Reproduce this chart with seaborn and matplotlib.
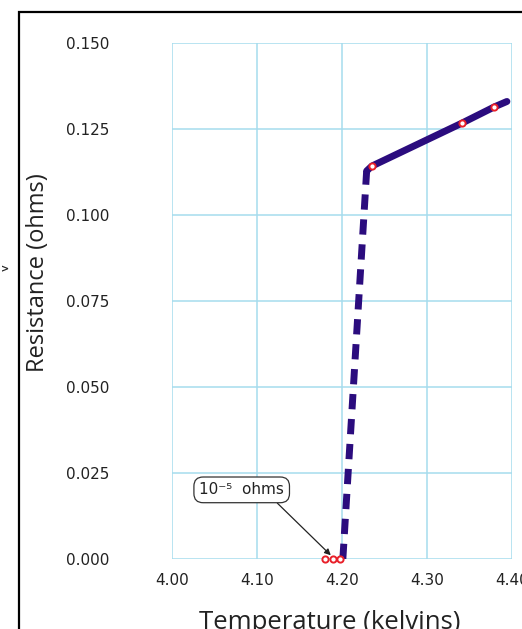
import seaborn as sns
import matplotlib.pyplot as plt
from matplotlib.patches import Rectangle

# measured points (open red circles)
temp_pts = [4.180, 4.189, 4.198, 4.235, 4.341, 4.379]
res_pts = [0.0, 0.0, 0.0, 0.1142, 0.1267, 0.1314]

# normal-state line (solid) and superconducting drop (dashed)
temp_solid = [4.229, 4.235, 4.341, 4.379, 4.394]
res_solid = [0.1128, 0.1142, 0.1267, 0.1314, 0.1330]
temp_drop = [4.201, 4.229]
res_drop = [0.0, 0.1128]

xticks = [4.00, 4.10, 4.20, 4.30, 4.40]
yticks = [0.000, 0.025, 0.050, 0.075, 0.100, 0.125, 0.150]

sns.set_style("white")
plt.rcParams['font.family'] = ['DejaVu Sans']

fig = plt.figure(figsize=(5.22, 6.29), dpi=100)
ax = fig.add_axes([172/522, 70/629, 340/522, 516/629])

line_col = "#2b0c7e"
sns.lineplot(x=temp_drop, y=res_drop, ax=ax, color=line_col, lw=5,
             solid_capstyle="butt", dash_capstyle="butt")
ax.lines[-1].set_dashes((2.2, 1.4))
sns.lineplot(x=temp_solid, y=res_solid, ax=ax, color=line_col, lw=5,
             solid_capstyle="round")
sns.scatterplot(x=temp_pts, y=res_pts, ax=ax, s=20, color="white",
                edgecolor="#e8202a", linewidth=1.4, zorder=5, clip_on=False)

ax.set_xlim(4.00, 4.40)
ax.set_ylim(0.0, 0.150)
ax.set_xticks(xticks)
ax.set_xticklabels([f"{t:.2f}" for t in xticks])
ax.set_yticks(yticks)
ax.set_yticklabels([f"{v:.3f}" for v in yticks])
ax.grid(True, color="#a6dcee", lw=1.1)
ax.set_axisbelow(True)
for s in ax.spines.values():
    s.set_visible(False)
ax.tick_params(axis="y", length=0, pad=45, labelsize=11, labelcolor="#222222")
ax.tick_params(axis="x", length=0, pad=10, labelsize=11, labelcolor="#222222")

ax.annotate("10⁻⁵  ohms", xy=(4.188, 0.0008), xytext=(4.082, 0.0201),
            ha="center", va="center", fontsize=11, color="#222222",
            bbox=dict(boxstyle="round,pad=0.35,rounding_size=0.6",
                      fc="white", ec="#333333", lw=0.9),
            arrowprops=dict(arrowstyle="-|>", color="#222222", lw=0.9,
                            mutation_scale=9, relpos=(0.85, 0.0),
                            shrinkA=0, shrinkB=1))

fig.text(38/522, 1 - 273/629, "Resistance (ohms)", rotation=90,
         ha="center", va="center", fontsize=17, family=["Open Sans", "DejaVu Sans"],
         color="#222222")
fig.text(330/522, 1 - 610/629, "Temperature (kelvins)", ha="center",
         va="top", fontsize=18.5, family=["Open Sans", "DejaVu Sans"],
         color="#222222")

# outer frame of the figure panel
fig.patches.append(Rectangle((19/522, -0.1), 1.2, 1 - 12/629 + 0.1,
                             transform=fig.transFigure, fill=False,
                             ec="black", lw=1.6))
fig.text(1/522, 1 - 269/629, ">", ha="left", va="center", fontsize=7,
         fontweight="bold")

fig.savefig("out.png", dpi=100)
